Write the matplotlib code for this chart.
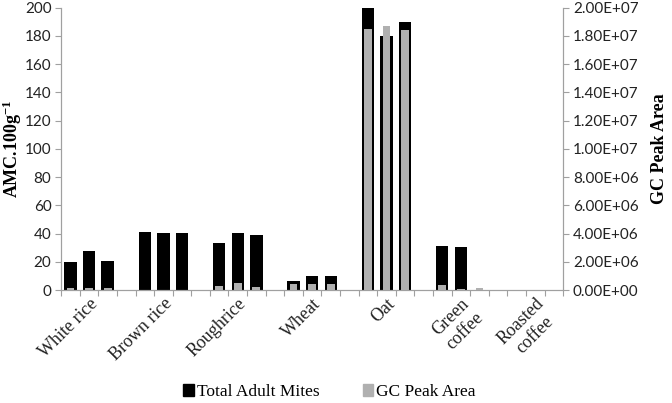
import numpy as np
import matplotlib
matplotlib.use("Agg")
import matplotlib.pyplot as plt
from matplotlib.ticker import FuncFormatter

# data
groups = ['White rice', 'Brown rice', 'Roughrice', 'Wheat', 'Oat', 'Green\ncoffee', 'Roasted\ncoffee']
mites = [19.7, 28.0, 20.5,
         41.0, 40.3, 40.3,
         33.7, 40.4, 39.3,
         6.8, 10.1, 10.1,
         200.0, 180.0, 190.0,
         31.1, 30.4, 0.0,
         0.0, 0.0, 0.0]
gc_area = [1.7e5, 1.7e5, 1.7e5,
           0.0, 0.0, 0.0,
           3.1e5, 5.1e5, 1.9e5,
           4.5e5, 4.5e5, 4.5e5,
           1.85e7, 1.87e7, 1.84e7,
           3.4e5, 1.0e5, 1.2e5,
           0.0, 0.0, 0.0]

n_rep = 3
x = np.array([g * (n_rep + 1) + j for g in range(len(groups)) for j in range(n_rep)])
n_slots = len(groups) * (n_rep + 1) - 1

axis_col = '#a0a0a0'
txt_col = '#222222'
sans = ['Lato', 'DejaVu Sans']
serif = ['Liberation Serif', 'DejaVu Serif']

plt.rcParams['mathtext.fontset'] = 'custom'
plt.rcParams['mathtext.rm'] = 'Liberation Serif'
plt.rcParams['mathtext.bf'] = 'Liberation Serif:bold'

fig = plt.figure(figsize=(6.72, 4.03), dpi=100)
ax = fig.add_axes([0.091, 0.280, 0.747, 0.701])
ax2 = ax.twinx()

ax.bar(x, mites, width=0.66, color='black', zorder=2)
ax2.bar(x, gc_area, width=0.42, color='#b0b0b0', zorder=3)

ax.set_xlim(-0.5, n_slots - 0.5)
ax.set_ylim(0, 200)
ax2.set_ylim(0, 2.0e7)
ax.set_yticks(np.arange(0, 201, 20))
ax2.set_yticks(np.arange(0, 2.01e7, 2e6))
ax2.yaxis.set_major_formatter(FuncFormatter(lambda v, p: f"{v:.2E}"))

# category boundaries as ticks, group names at the middle bar
ax.set_xticks(np.arange(-0.5, n_slots, 1.0))
ax.set_xticklabels([])
ax.tick_params(axis='x', length=4, color=axis_col, direction='out')
for g, name in enumerate(groups):
    ax.text(g * (n_rep + 1) + 1, -3.5, name, rotation=45, rotation_mode='anchor',
            ha='right', va='top', multialignment='center',
            family=serif, fontsize=13, color=txt_col)

for a in (ax, ax2):
    for s in a.spines.values():
        s.set_color(axis_col)
    a.spines['top'].set_visible(False)
ax.tick_params(axis='y', length=4, color=axis_col, labelsize=11, labelcolor=txt_col, pad=3)
ax2.tick_params(axis='y', length=4, color=axis_col, labelsize=11, labelcolor=txt_col, pad=3)
for lab in ax.get_yticklabels() + ax2.get_yticklabels():
    lab.set_family(sans)

ax.set_ylabel('AMC.100g$\\mathbf{^{-1}}$', family=serif, fontsize=13, fontweight='bold')
ax.yaxis.set_label_coords(-0.074, 0.5)
ax2.set_ylabel('GC Peak Area', family=serif, fontsize=13, fontweight='bold')
ax2.yaxis.set_label_coords(1.175, 0.5)

h1 = plt.Rectangle((0, 0), 1, 1, color='black')
h2 = plt.Rectangle((0, 0), 1, 1, color='#b0b0b0')
fig.legend([h1, h2], ['Total Adult Mites', 'GC Peak Area'], loc='center', bbox_to_anchor=(0.49, 0.027),
           ncol=2, frameon=False, handlelength=0.6, handleheight=0.6, handletextpad=0.15,
           columnspacing=2.5, prop={'family': serif, 'size': 12.5})

fig.savefig('out.png', dpi=100)
